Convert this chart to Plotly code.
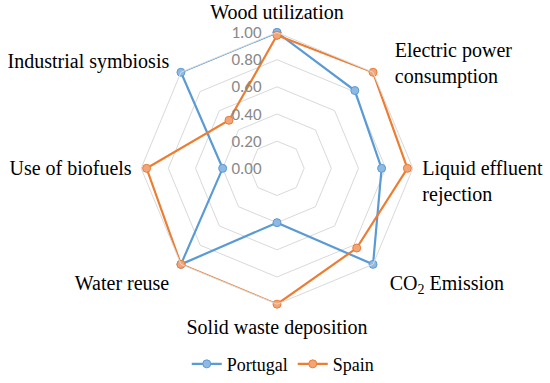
import plotly.graph_objects as go

NB = "\u00a0"
categories = ["Wood utilization",
              "<br><br><br>" + NB * 3 + "Electric power<br>" + NB * 3 + "consumption",
              "<br>Liquid effluent<br>rejection",
              NB * 2 + "CO<sub>2</sub> Emission", "Solid waste deposition", "Water reuse" + NB,
              "Use of biofuels", "Industrial symbiosis" + NB]
portugal = [1.00, 0.81, 0.77, 1.00, 0.40, 1.00, 0.40, 1.00]
spain = [0.98, 1.00, 0.96, 0.83, 1.00, 1.00, 0.96, 0.50]
radial_ticks = [0.0, 0.2, 0.4, 0.6, 0.8, 1.0]

fig = go.Figure()
for name, vals, col, fill in [("Portugal", portugal, "#5B9BD5", "#8FB8E3"),
                              ("Spain", spain, "#ED7D31", "#F3A57A")]:
    fig.add_trace(go.Scatterpolar(
        r=vals + vals[:1], theta=categories + categories[:1], name=name,
        mode="lines+markers",
        line=dict(color=col, width=2.2),
        marker=dict(size=8, color=fill, line=dict(color=col, width=1)),
    ))

fig.update_layout(
    width=550, height=383,
    margin=dict(l=0, r=0, t=0, b=0),
    paper_bgcolor="white",
    font=dict(family="Liberation Serif", size=20, color="black"),
    polar=dict(
        domain=dict(x=[139/550, 415/550], y=[1-309/383, 1-33/383]),
        bgcolor="white",
        gridshape="linear",
        radialaxis=dict(range=[0, 1], tickvals=radial_ticks, tickformat=".2f",
                        angle=90, tickangle=90, side="counterclockwise",
                        showline=False, ticks="outside", ticklen=9,
                        tickcolor="rgba(0,0,0,0)", gridcolor="#D9D9D9", gridwidth=1,
                        tickfont=dict(family="Carlito, Liberation Sans", size=17, color="#898989")),
        angularaxis=dict(direction="clockwise", rotation=90, showgrid=False,
                         showline=True, linecolor="#D9D9D9", linewidth=1,
                         ticks="outside", ticklen=5, tickcolor="rgba(0,0,0,0)",
                         tickfont=dict(family="Liberation Serif", size=20, color="black")),
    ),
    legend=dict(orientation="h", x=0.515, xanchor="center", y=-0.015, yanchor="bottom",
                font=dict(family="Liberation Serif", size=18)),
)
fig.write_html("out.html", config={"displayModeBar": False},
               post_script="document.body.style.margin='0';")
